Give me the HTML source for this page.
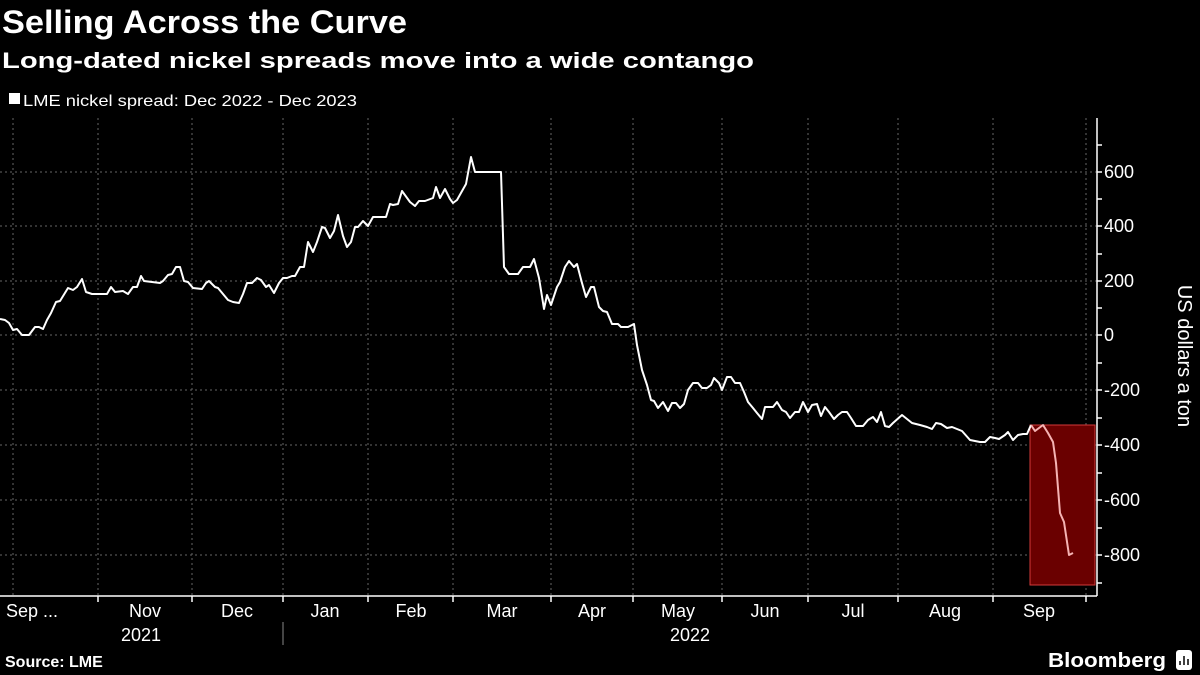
<!DOCTYPE html>
<html><head><meta charset="utf-8"><style>
html,body{margin:0;padding:0;background:#000;}
svg{display:block;}
text{font-family:"Liberation Sans",sans-serif;fill:#fff;}
</style></head><body>
<svg width="1200" height="675" viewBox="0 0 1200 675">
<rect width="1200" height="675" fill="#000"/>
<text x="2" y="33" font-size="32" font-weight="bold" textLength="405" lengthAdjust="spacingAndGlyphs">Selling Across the Curve</text>
<text x="2" y="68" font-size="22" font-weight="bold" textLength="752" lengthAdjust="spacingAndGlyphs">Long-dated nickel spreads move into a wide contango</text>
<rect x="9" y="93" width="11" height="11" fill="#fff"/>
<text x="23" y="106" font-size="16" textLength="334" lengthAdjust="spacingAndGlyphs">LME nickel spread: Dec 2022 - Dec 2023</text>
<g stroke="#666" stroke-width="1" stroke-dasharray="2,3">
<line x1="0" y1="172" x2="1097" y2="172"/><line x1="0" y1="226" x2="1097" y2="226"/><line x1="0" y1="281" x2="1097" y2="281"/><line x1="0" y1="335" x2="1097" y2="335"/><line x1="0" y1="390" x2="1097" y2="390"/><line x1="0" y1="445" x2="1097" y2="445"/><line x1="0" y1="500" x2="1097" y2="500"/><line x1="0" y1="555" x2="1097" y2="555"/>
<line x1="13" y1="118" x2="13" y2="595"/><line x1="98" y1="118" x2="98" y2="595"/><line x1="192" y1="118" x2="192" y2="595"/><line x1="283" y1="118" x2="283" y2="595"/><line x1="368" y1="118" x2="368" y2="595"/><line x1="453" y1="118" x2="453" y2="595"/><line x1="551" y1="118" x2="551" y2="595"/><line x1="633" y1="118" x2="633" y2="595"/><line x1="722" y1="118" x2="722" y2="595"/><line x1="808" y1="118" x2="808" y2="595"/><line x1="898" y1="118" x2="898" y2="595"/><line x1="993" y1="118" x2="993" y2="595"/><line x1="1086" y1="118" x2="1086" y2="595"/>
</g>
<rect x="1030" y="425" width="65" height="160" fill="#6a0000" stroke="#d23a3a" stroke-width="1"/>
<g stroke="#fff" stroke-width="1.5">
<line x1="1097" y1="118" x2="1097" y2="596"/>
<line x1="0" y1="596" x2="1097" y2="596"/>
<line x1="98" y1="596" x2="98" y2="602"/><line x1="192" y1="596" x2="192" y2="602"/><line x1="283" y1="596" x2="283" y2="602"/><line x1="368" y1="596" x2="368" y2="602"/><line x1="453" y1="596" x2="453" y2="602"/><line x1="551" y1="596" x2="551" y2="602"/><line x1="633" y1="596" x2="633" y2="602"/><line x1="722" y1="596" x2="722" y2="602"/><line x1="808" y1="596" x2="808" y2="602"/><line x1="898" y1="596" x2="898" y2="602"/><line x1="993" y1="596" x2="993" y2="602"/><line x1="1086" y1="596" x2="1086" y2="602"/>
<line x1="1097" y1="145" x2="1102" y2="145"/><line x1="1097" y1="172" x2="1102" y2="172"/><line x1="1097" y1="199" x2="1102" y2="199"/><line x1="1097" y1="226" x2="1102" y2="226"/><line x1="1097" y1="254" x2="1102" y2="254"/><line x1="1097" y1="281" x2="1102" y2="281"/><line x1="1097" y1="308" x2="1102" y2="308"/><line x1="1097" y1="335" x2="1102" y2="335"/><line x1="1097" y1="363" x2="1102" y2="363"/><line x1="1097" y1="390" x2="1102" y2="390"/><line x1="1097" y1="418" x2="1102" y2="418"/><line x1="1097" y1="445" x2="1102" y2="445"/><line x1="1097" y1="473" x2="1102" y2="473"/><line x1="1097" y1="500" x2="1102" y2="500"/><line x1="1097" y1="528" x2="1102" y2="528"/><line x1="1097" y1="555" x2="1102" y2="555"/><line x1="1097" y1="583" x2="1102" y2="583"/>
</g>
<line x1="283" y1="622" x2="283" y2="645" stroke="#888" stroke-width="1"/>
<g font-size="18">
<text x="1104" y="178">600</text><text x="1104" y="232">400</text><text x="1104" y="287">200</text><text x="1104" y="341">0</text><text x="1104" y="396">-200</text><text x="1104" y="451">-400</text><text x="1104" y="506">-600</text><text x="1104" y="561">-800</text>
</g>
<text transform="translate(1178,356) rotate(90)" font-size="20" text-anchor="middle">US dollars a ton</text>
<g font-size="18" text-anchor="middle">
<text x="32" y="617">Sep ...</text><text x="145" y="617">Nov</text><text x="237" y="617">Dec</text><text x="325" y="617">Jan</text><text x="411" y="617">Feb</text><text x="502" y="617">Mar</text><text x="592" y="617">Apr</text><text x="678" y="617">May</text><text x="765" y="617">Jun</text><text x="853" y="617">Jul</text><text x="945" y="617">Aug</text><text x="1039" y="617">Sep</text>
<text x="141" y="641">2021</text><text x="690" y="641">2022</text>
</g>
<text x="5" y="667" font-size="16" font-weight="bold">Source: LME</text>
<text x="1048" y="667" font-size="20" font-weight="bold" textLength="118" lengthAdjust="spacingAndGlyphs">Bloomberg</text>
<rect x="1176" y="650" width="16" height="20" rx="3" fill="#fff"/>
<g stroke="#000" stroke-width="1.5"><line x1="1180" y1="665" x2="1180" y2="661"/><line x1="1184" y1="665" x2="1184" y2="656"/><line x1="1188" y1="665" x2="1188" y2="659"/></g>
<polyline fill="none" stroke="#fff" stroke-width="2" stroke-linejoin="round" points="0,319 5,320 9,323 13,330 17,329 22,335 29,335 35,327 39,327 43,329 47,320 51,313 56,302 60,301 68,288 73,290 77,287 82,279 86,292 92,294 107,294 111,287 115,292 123,291 128,294 133,287 137,287 141,276 144,281 160,283 163,281 168,275 172,274 176,267 180,267 184,281 188,282 193,288 202,289 206,283 209,281 215,287 218,288 228,300 233,302 239,303 243,294 247,283 252,283 257,278 261,280 266,287 269,285 274,293 279,283 283,278 287,278 292,276 295,276 300,267 304,267 308,242 313,252 317,242 322,227 325,228 330,238 334,231 338,215 343,236 347,247 351,242 355,227 358,227 363,221 368,226 373,217 386,217 390,204 393,205 398,204 402,191 410,202 415,206 419,201 425,201 433,198 436,187 440,198 445,189 450,199 453,203 457,200 466,184 471,157 475,172 501,172 504,267 509,274 518,274 523,267 530,267 534,259 539,278 544,309 547,295 551,305 557,287 560,282 565,267 569,261 574,267 577,264 582,283 586,297 591,287 594,287 599,307 603,311 607,312 612,324 618,324 621,327 628,327 634,324 637,345 642,370 647,385 651,400 654,401 658,408 663,402 668,411 672,403 676,403 680,408 684,404 688,390 693,383 698,383 702,388 707,388 711,385 714,378 719,383 722,390 727,377 731,377 735,383 740,383 744,392 748,402 753,408 757,413 762,419 765,407 773,407 777,402 782,410 786,412 790,418 795,412 799,412 803,402 808,412 812,405 817,404 821,416 825,407 829,412 834,419 838,415 842,412 847,412 851,418 856,426 863,426 868,420 873,417 877,422 881,412 885,426 889,427 893,423 902,415 907,419 912,423 920,425 927,427 932,429 936,423 941,424 947,428 952,427 957,429 962,431 970,440 975,441 980,442 985,442 990,437 995,438 999,439 1005,435 1008,432 1013,440 1018,435 1023,434 1027,434 1031,425"/>
<polyline fill="none" stroke="#f5b3b3" stroke-width="2" stroke-linejoin="round" points="1031,425 1035,431 1039,428 1043,425 1048,433 1053,442 1056,463 1060,513 1064,522 1069,555 1073,553"/>
</svg>
</body></html>
